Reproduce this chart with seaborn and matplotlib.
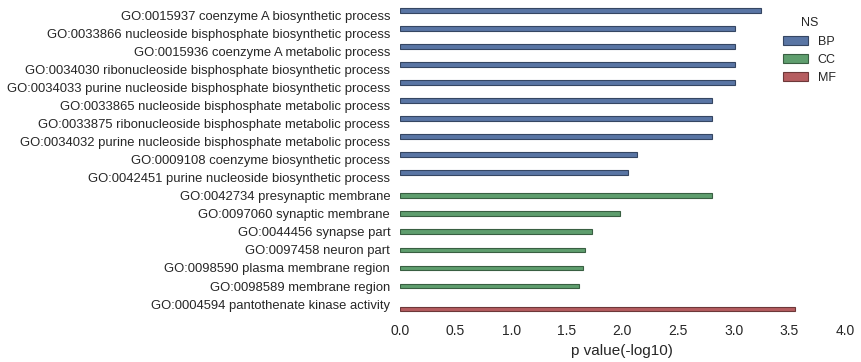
import matplotlib

matplotlib.use("Agg")

import matplotlib.pyplot as plt
import pandas as pd
import seaborn as sns
from matplotlib.colors import to_rgb

TERMS = [
    "GO:0015937 coenzyme A biosynthetic process",
    "GO:0033866 nucleoside bisphosphate biosynthetic process",
    "GO:0015936 coenzyme A metabolic process",
    "GO:0034030 ribonucleoside bisphosphate biosynthetic process",
    "GO:0034033 purine nucleoside bisphosphate biosynthetic process",
    "GO:0033865 nucleoside bisphosphate metabolic process",
    "GO:0033875 ribonucleoside bisphosphate metabolic process",
    "GO:0034032 purine nucleoside bisphosphate metabolic process",
    "GO:0009108 coenzyme biosynthetic process",
    "GO:0042451 purine nucleoside biosynthetic process",
    "GO:0042734 presynaptic membrane",
    "GO:0097060 synaptic membrane",
    "GO:0044456 synapse part",
    "GO:0097458 neuron part",
    "GO:0098590 plasma membrane region",
    "GO:0098589 membrane region",
    "GO:0004594 pantothenate kinase activity",
]
NS = ["BP"] * 10 + ["CC"] * 6 + ["MF"]
PVALUES = [3.25, 3.01, 3.01, 3.01, 3.01, 2.81, 2.81, 2.81, 2.13, 2.05,
           2.81, 1.98, 1.73, 1.66, 1.65, 1.61,
           3.55]
NS_ORDER = ["BP", "CC", "MF"]
COLORS = ["#4C72B0", "#55A868", "#C44E52"]


def main() -> None:
    sns.set_theme(style="white")
    plt.rcParams["font.family"] = ["Liberation Sans", "DejaVu Sans"]

    data = pd.DataFrame({"term": TERMS, "NS": NS, "p": PVALUES})

    fig, ax = plt.subplots(figsize=(8.62, 3.62), dpi=100)
    sns.barplot(data=data, y="term", x="p", hue="NS", hue_order=NS_ORDER,
                order=TERMS, palette=COLORS, orient="h", dodge=True,
                ax=ax, errorbar=None)

    for patch in ax.patches:
        r, g, b = to_rgb(patch.get_facecolor())
        patch.set_edgecolor((r * 0.6, g * 0.6, b * 0.6))
        patch.set_linewidth(0.8)

    ax.set_xlim(0, 4)
    ax.set_xticks([0, 0.5, 1, 1.5, 2, 2.5, 3, 3.5, 4])
    ax.set_xlabel("p value(-log10)", fontsize=11, labelpad=4)
    ax.set_ylabel("")
    ax.tick_params(axis="y", labelsize=9.4, length=0, pad=7)
    ax.tick_params(axis="x", labelsize=10, length=0, pad=8)
    sns.despine(left=True, bottom=True)

    ax.legend(title="NS", loc="upper right", frameon=False, fontsize=9,
              title_fontsize=9, bbox_to_anchor=(1.005, 1.0))

    fig.subplots_adjust(left=0.464, right=0.98, top=0.983, bottom=0.135)
    fig.savefig("out.png", dpi=100)
    plt.close(fig)


if __name__ == "__main__":
    main()
